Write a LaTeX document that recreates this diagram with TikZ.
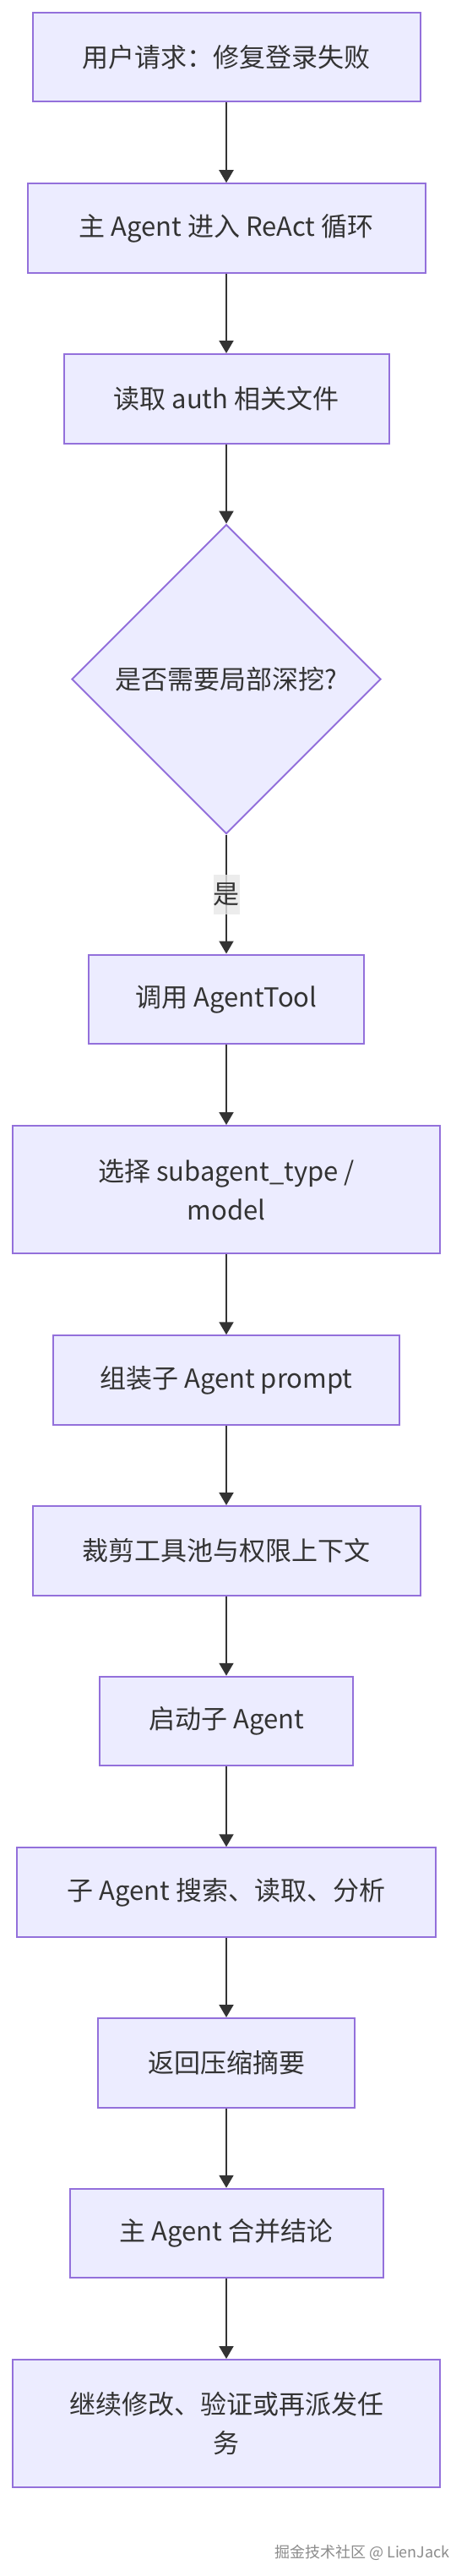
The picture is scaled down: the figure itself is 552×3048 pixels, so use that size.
\documentclass[tikz,border=0pt]{standalone}
\usepackage{fontspec}
\setmainfont{Noto Sans CJK SC}
\usetikzlibrary{shapes.geometric,arrows.meta}
\definecolor{nodefill}{HTML}{ECECFF}
\definecolor{nodeline}{HTML}{9370DB}
\definecolor{ink}{HTML}{333333}
\definecolor{lblbg}{HTML}{E8E8E8}
\definecolor{wmgray}{HTML}{8C8C8C}
\tikzset{
  flowbox/.style={rectangle, draw=nodeline, fill=nodefill, line width=2pt,
    inner sep=0pt, align=center, text=ink,
    font=\fontsize{31}{46.5}\selectfont, minimum height=105.5pt},
  decide/.style={diamond, aspect=1, draw=nodeline, fill=nodefill, line width=2pt,
    inner sep=0pt, align=center, text=ink,
    font=\fontsize{31}{46.5}\selectfont, minimum width=366pt, minimum height=366pt},
  flowarrow/.style={draw=ink, line width=2pt,
    -{Triangle[length=15pt,width=17pt]}},
  edgelabel/.style={fill=lblbg, fill opacity=0.8, text opacity=1, text=ink,
    inner sep=0pt, minimum width=31pt, minimum height=47pt,
    font=\fontsize{31}{46.5}\selectfont},
  watermark/.style={text=wmgray, inner sep=0pt, font=\fontsize{18}{21}\selectfont}
}
\begin{document}
\begin{tikzpicture}[x=1pt,y=-1pt]
\useasboundingbox (0,0) rectangle (552,3048);
\fill[white] (0,0) rectangle (552,3048);

\node[flowbox, minimum width=459pt] (b1) at (268,67.75) {用户请求：修复登录失败};
\node[flowbox, minimum width=471pt] (b2) at (268,270) {主 Agent 进入 ReAct 循环};
\node[flowbox, minimum width=385pt] (b3) at (268,471.75) {读取 auth 相关文件};
\node[decide] (d1) at (268,803.6) {是否需要局部深挖?};
\node[flowbox, minimum width=326pt] (b4) at (268,1182.25) {调用 AgentTool};
\node[flowbox, minimum width=506pt, minimum height=151pt] (b5) at (268,1407.5) {选择 subagent\_type /\\model};
\node[flowbox, minimum width=410pt] (b6) at (268,1633) {组装子 Agent prompt};
\node[flowbox, minimum width=459pt] (b7) at (268,1834.75) {裁剪工具池与权限上下文};
\node[flowbox, minimum width=300pt] (b8) at (268,2036.5) {启动子 Agent};
\node[flowbox, minimum width=496pt] (b9) at (268,2239) {子 Agent 搜索、读取、分析};
\node[flowbox, minimum width=304pt] (b10) at (268,2440.75) {返回压缩摘要};
\node[flowbox, minimum width=371pt] (b11) at (268,2642.5) {主 Agent 合并结论};
\node[flowbox, minimum width=506pt, minimum height=151pt] (b12) at (268,2867.5) {继续修改、验证或再派发任\\务};

\draw[flowarrow] (b1) -- (b2);
\draw[flowarrow] (b2) -- (b3);
\draw[flowarrow] (b3) -- (d1);
\draw[flowarrow] (d1) -- node[edgelabel] (lyes) {是} (b4);
\draw[flowarrow] (b4) -- (b5);
\draw[flowarrow] (b5) -- (b6);
\draw[flowarrow] (b6) -- (b7);
\draw[flowarrow] (b7) -- (b8);
\draw[flowarrow] (b8) -- (b9);
\draw[flowarrow] (b9) -- (b10);
\draw[flowarrow] (b10) -- (b11);
\draw[flowarrow] (b11) -- (b12);

\node[watermark, anchor=east] (wm) at (533,3020) {掘金技术社区 @ LienJack};
\end{tikzpicture}
\end{document}
